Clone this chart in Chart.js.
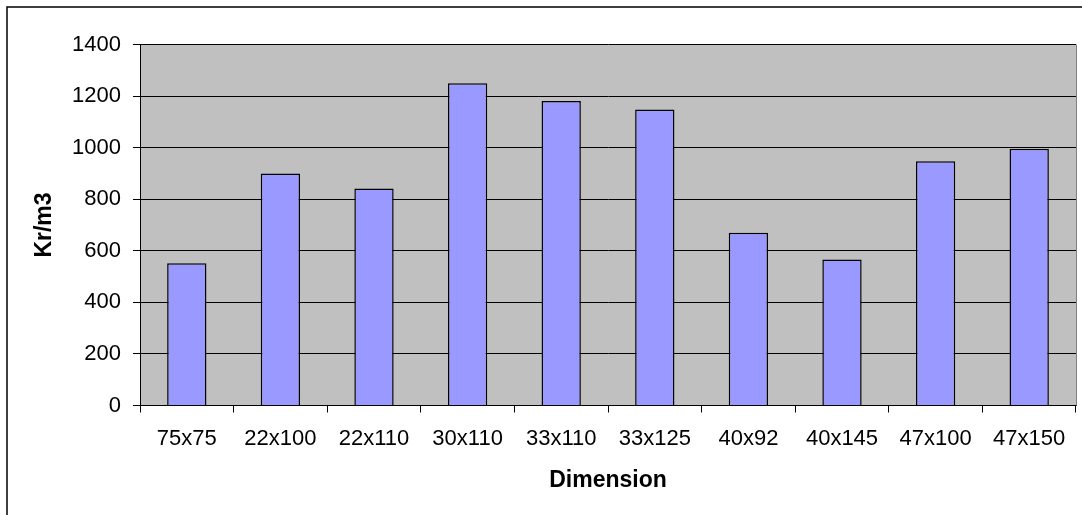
<!DOCTYPE html>
<html>
<head>
<meta charset="utf-8">
<script src="https://cdn.jsdelivr.net/npm/chart.js@4.4.1/dist/chart.umd.min.js"></script>
<style>
  html, body { margin: 0; padding: 0; background: #ffffff; overflow: hidden; }
  #wrap { position: absolute; left: 0; top: 0; width: 1082px; height: 515px; }
</style>
</head>
<body>
<div id="wrap"><canvas id="c" width="1082" height="515"></canvas></div>
<script>
const categories = ['75x75', '22x100', '22x110', '30x110', '33x110', '33x125', '40x92', '40x145', '47x100', '47x150'];
const values = [552, 900, 842, 1250, 1181, 1148, 670, 566, 947, 996];
const yTicks = [0, 200, 400, 600, 800, 1000, 1200, 1400];
const xTitle = 'Dimension';
const yTitle = 'Kr/m3';

const PLOT_LEFT = 140, PLOT_RIGHT = 1076, PLOT_TOP = 44.5, PLOT_BOTTOM = 405.5;
const FONT = 'Liberation Sans, Arial, sans-serif';

const framePlugin = {
  id: 'frame',
  beforeDraw(chart) {
    const ctx = chart.ctx;
    const a = chart.chartArea;
    ctx.save();
    ctx.fillStyle = '#ffffff';
    ctx.fillRect(0, 0, chart.width, chart.height);
    ctx.fillStyle = '#C0C0C0';
    ctx.fillRect(a.left, a.top, a.right - a.left, a.bottom - a.top);
    ctx.strokeStyle = '#000000';
    ctx.lineWidth = 1.5;
    ctx.strokeRect(7, 7, chart.width + 20, chart.height + 20);
    ctx.restore();
  },
  afterDatasetsDraw(chart) {
    const ctx = chart.ctx;
    const a = chart.chartArea;
    ctx.save();
    ctx.strokeStyle = '#808080';
    ctx.lineWidth = 1;
    ctx.beginPath();
    ctx.moveTo(a.right + 0.5, a.top);
    ctx.lineTo(a.right + 0.5, a.bottom);
    ctx.stroke();
    ctx.restore();
  }
};

new Chart(document.getElementById('c'), {
  type: 'bar',
  data: {
    labels: categories,
    datasets: [{
      data: values,
      backgroundColor: '#9999FF',
      borderColor: '#000000',
      borderWidth: 1.5,
      barPercentage: 0.42,
      categoryPercentage: 1.0
    }]
  },
  options: {
    responsive: false,
    animation: false,
    devicePixelRatio: 1,
    layout: { padding: { left: 0, right: 1082 - PLOT_RIGHT, top: PLOT_TOP, bottom: 0 } },
    plugins: { legend: { display: false }, tooltip: { enabled: false } },
    scales: {
      x: {
        offset: true,
        grid: {
          offset: true,
          drawOnChartArea: false,
          drawTicks: true,
          tickLength: 7,
          color: '#000000',
          lineWidth: 1
        },
        border: { display: true, color: '#000000', width: 1 },
        ticks: {
          color: '#000000',
          font: { family: FONT, size: 22 },
          padding: 13,
          maxRotation: 0,
          autoSkip: false
        },
        title: {
          display: true,
          text: xTitle,
          color: '#000000',
          font: { family: FONT, size: 23, weight: 'bold' },
          padding: { top: 0, bottom: 21 }
        },
        afterFit(scale) { scale.height = 515 - PLOT_BOTTOM; }
      },
      y: {
        min: 0,
        max: 1400,
        afterBuildTicks(scale) { scale.ticks = yTicks.map(v => ({ value: v })); },
        grid: {
          color: '#000000',
          lineWidth: 1,
          drawTicks: true,
          tickLength: 7
        },
        border: { display: true, color: '#000000', width: 1 },
        ticks: {
          color: '#000000',
          font: { family: FONT, size: 22 },
          padding: 12,
          callback: (v) => String(v)
        },
        title: {
          display: true,
          text: yTitle,
          color: '#000000',
          font: { family: FONT, size: 23, weight: 'bold' },
          padding: { top: 31, bottom: 0 }
        },
        afterFit(scale) { scale.width = PLOT_LEFT; }
      }
    }
  },
  plugins: [framePlugin]
});
</script>
</body>
</html>
